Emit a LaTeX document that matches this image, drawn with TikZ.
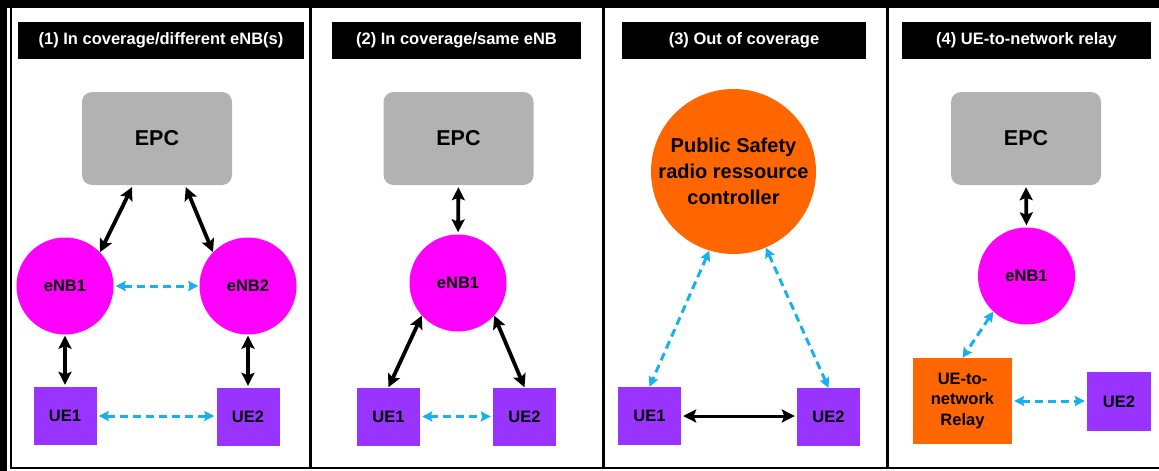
\documentclass[tikz,border=0pt]{standalone}
\usepackage{fontspec}
\setmainfont{Liberation Sans}
\usetikzlibrary{arrows.meta,positioning}
\definecolor{enbmagenta}{HTML}{FF00FF}
\definecolor{uepurple}{HTML}{9933FF}
\definecolor{psorange}{HTML}{FF6600}
\definecolor{epcgray}{HTML}{B2B2B2}
\definecolor{linkblue}{HTML}{1AB0EC}
\pgfmathsetmacro{\uewidth}{63}
\pgfmathsetmacro{\ueheight}{58}
\pgfmathsetmacro{\enbsize}{97}
\tikzset{
  labelfont/.style={font=\bfseries\fontsize{16.5}{19}\selectfont},
  panelhead/.style={fill=black, text=white, labelfont, minimum height=37pt, inner sep=0pt},
  epc/.style={fill=epcgray, rounded corners=10pt, minimum width=150pt, minimum height=93pt,
    font=\bfseries\fontsize{21.5}{25}\selectfont},
  enb/.style={circle, fill=enbmagenta, minimum size=\enbsize pt, inner sep=0pt, labelfont},
  ue/.style={fill=uepurple, minimum width=\uewidth pt, minimum height=\ueheight pt, inner sep=0pt, labelfont},
  wire/.style={line width=3.8pt, {Stealth[length=13pt,width=13pt,inset=2.5pt]}-{Stealth[length=13pt,width=13pt,inset=2.5pt]}},
  radio/.style={line width=3pt, linkblue, dash pattern=on 8pt off 5pt,
    {Stealth[length=10pt,width=10pt,inset=1.5pt]}-{Stealth[length=10pt,width=10pt,inset=1.5pt]}},
}
\begin{document}
\begin{tikzpicture}[x=1pt, y=-1pt]
    \useasboundingbox (0,0) rectangle (1159,471);
    % frame and panels
    \fill (0,0) rectangle (1159,8);
    \fill (0,0) rectangle (7,471);
    \draw[line width=2.5pt] (11,8) -- (11,468) -- (1159,468);
    \foreach \x in {310,603,887}
        \draw[line width=3pt] (\x,8) -- (\x,468);
    % panel titles
    \node[panelhead, minimum width=286pt] (head_a) at (161,40.5) {(1) In coverage/different eNB(s)};
    \node[panelhead, minimum width=249pt] (head_b) at (456.5,40.5) {(2) In coverage/same eNB};
    \node[panelhead, minimum width=244pt] (head_c) at (744,40.5) {(3) Out of coverage};
    \node[panelhead, minimum width=249pt] (head_d) at (1026.5,40.5) {(4) UE-to-network relay};

    % (1) different eNBs
    \node[epc] (epc_a) at (157,138.5) {EPC};
    \node[enb] (enb1_a) at (65,286) {eNB1};
    \node[enb] (enb2_a) at (248,286) {eNB2};
    \node[ue] (ue1_a) at (65,416) {UE1};
    \node[ue] (ue2_a) at (248,417) {UE2};
    \draw[wire, shorten <=2pt] ([xshift=-24pt]epc_a.south) -- (enb1_a.44);
    \draw[wire, shorten <=2pt] ([xshift=28pt]epc_a.south) -- (enb2_a.136);
    \draw[radio, shorten <=2pt, shorten >=1pt] (enb1_a) -- (enb2_a);
    \draw[wire, shorten <=1pt, shorten >=2pt] (enb1_a.south) -- (ue1_a.north);
    \draw[wire, shorten <=1pt, shorten >=2pt] (enb2_a.south) -- (ue2_a.north);
    \draw[radio, shorten <=2pt, shorten >=2pt] (ue1_a.east) -- (ue2_a.west |- ue1_a.east);

    % (2) same eNB
    \node[epc] (epc_b) at (458.5,138.5) {EPC};
    \node[enb] (enb1_b) at (458,283) {eNB1};
    \node[ue] (ue1_b) at (388.5,416.5) {UE1};
    \node[ue] (ue2_b) at (524.5,416.5) {UE2};
    \draw[wire, shorten <=2pt, shorten >=2pt] (epc_b.south) -- (enb1_b.north);
    \draw[wire] (enb1_b.222) -- (ue1_b.north);
    \draw[wire] (enb1_b.318) -- (ue2_b.north);
    \draw[radio, shorten <=2pt, shorten >=2pt] (ue1_b) -- (ue2_b);

    % (3) out of coverage
    \node[circle, fill=psorange, minimum size=165pt, inner sep=0pt, align=center,
      font=\bfseries\fontsize{20}{26}\selectfont] (ctrl_c) at (733.5,171.5)
      {Public Safety\\radio ressource\\controller};
    \node[ue] (ue1_c) at (649.5,416) {UE1};
    \node[ue] (ue2_c) at (828.5,417) {UE2};
    \draw[radio] (ctrl_c.253) -- (ue1_c.north);
    \draw[radio] (ctrl_c.293) -- (ue2_c.north);
    \draw[wire, line width=3pt, shorten <=2pt, shorten >=2pt] (ue1_c.east) -- (ue2_c.west |- ue1_c.east);

    % (4) UE-to-network relay
    \node[epc] (epc_d) at (1026,138.5) {EPC};
    \node[enb] (enb1_d) at (1026.5,276) {eNB1};
    \node[fill=psorange, minimum width=99pt, minimum height=86pt, inner sep=0pt, align=center,
      font=\bfseries\fontsize{16.5}{20.5}\selectfont] (relay_d) at (962.5,401) {UE-to-\\network\\Relay};
    \node[ue, minimum width=64pt, minimum height=59pt] (ue2_d) at (1119,401.5) {UE2};
    \draw[wire, shorten <=2pt, shorten >=2pt] (epc_d.south) -- (enb1_d.north);
    \draw[radio] (enb1_d.227) -- (relay_d.north);
    \draw[radio, shorten <=2pt, shorten >=2pt] (relay_d.east) -- (ue2_d.west |- relay_d.east);
\end{tikzpicture}
\end{document}
